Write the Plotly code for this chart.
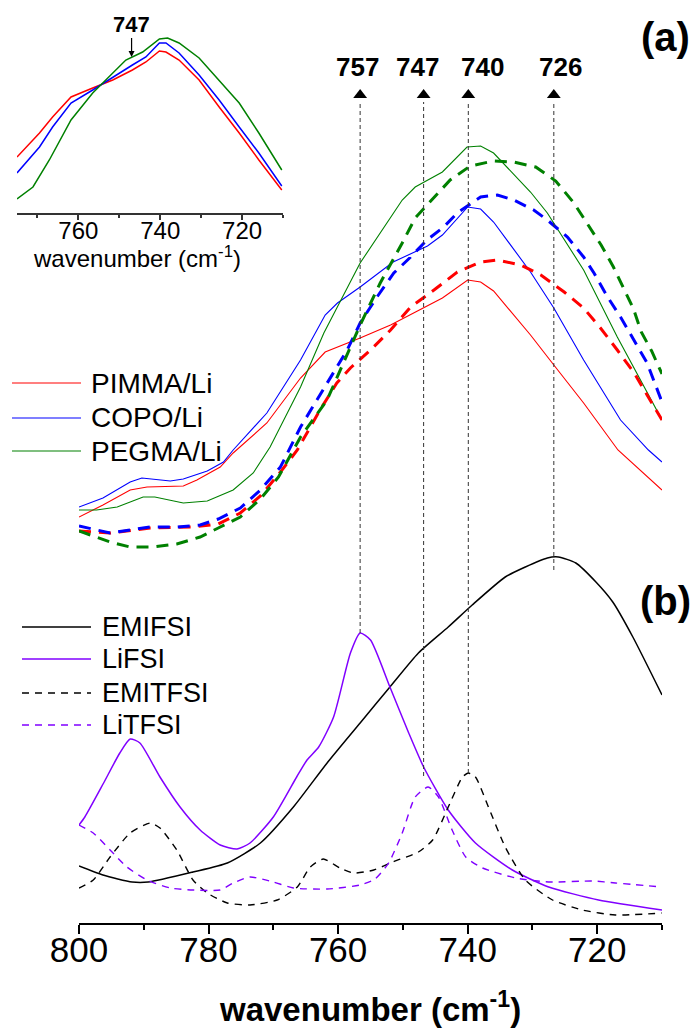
import plotly.graph_objects as go

# ---------------- data (arbitrary intensity units) ----------------
# panel (a): polymer electrolytes, solid = FSI-based, dashed = TFSI-based
pimma_fsi_x = [800, 796.3, 792.1, 789.5, 783.9, 781.8, 778.2, 776.2, 771, 765.8, 762, 756.6, 751.9, 746.8, 743.9, 740, 738, 736, 730.3, 726.7, 722.1, 716.8, 710]
pimma_fsi_y = [4.06, 4.18, 4.33, 4.36, 4.37, 4.43, 4.56, 4.70, 5.00, 5.45, 5.71, 5.85, 5.98, 6.15, 6.25, 6.43, 6.41, 6.32, 5.88, 5.58, 5.20, 4.73, 4.33]

copo_fsi_x = [800, 796.3, 792.1, 790.3, 785.9, 783.9, 780.2, 777.7, 776.2, 771, 765.8, 762, 760.1, 756.6, 751.5, 746.2, 743.9, 740, 738, 736, 730.3, 726.7, 722.1, 716.4, 712.1, 710]
copo_fsi_y = [4.16, 4.25, 4.41, 4.45, 4.42, 4.44, 4.52, 4.61, 4.73, 5.10, 5.63, 6.08, 6.20, 6.36, 6.61, 6.77, 6.88, 7.16, 7.14, 7.01, 6.51, 6.15, 5.63, 5.03, 4.73, 4.61]

pegma_fsi_x = [800, 797.3, 794.1, 790.1, 788.3, 783.9, 780.2, 776.2, 773.1, 770.5, 765.8, 762.2, 756.6, 750.1, 748.1, 743.9, 740.1, 738, 736, 730.3, 727.7, 722.1, 716.9, 710]
pegma_fsi_y = [4.13, 4.13, 4.16, 4.26, 4.26, 4.20, 4.22, 4.33, 4.50, 4.76, 5.36, 5.90, 6.60, 7.23, 7.36, 7.51, 7.76, 7.77, 7.70, 7.31, 7.10, 6.53, 5.86, 5.03]

pimma_tfsi_x = [800, 795.2, 789, 782.4, 778.5, 775.1, 772, 768.9, 766.3, 764.8, 762.8, 760.2, 758.1, 755, 751.9, 748.8, 745.2, 741.6, 738, 735.4, 731.8, 728.7, 725.1, 722.1, 719.5, 716.9, 714.3, 712.3, 710]
pimma_tfsi_y = [3.92, 3.90, 3.95, 3.96, 3.99, 4.10, 4.27, 4.51, 4.73, 4.90, 5.13, 5.40, 5.55, 5.73, 5.93, 6.16, 6.33, 6.51, 6.61, 6.63, 6.58, 6.48, 6.31, 6.15, 5.95, 5.73, 5.50, 5.28, 5.03]

copo_tfsi_x = [800, 795.2, 792.1, 789, 784.9, 781.3, 778.5, 775.1, 772, 768.9, 765.8, 761.2, 758.6, 756.6, 754, 751.4, 748.8, 746.3, 743.7, 741.6, 738, 735.4, 732.9, 729.8, 727.7, 724.6, 722.1, 720.5, 718.4, 716.4, 714.3, 712.3, 710]
copo_tfsi_y = [3.97, 3.90, 3.93, 3.96, 3.96, 3.98, 4.04, 4.15, 4.33, 4.56, 4.96, 5.46, 5.73, 6.00, 6.26, 6.50, 6.66, 6.83, 6.96, 7.10, 7.26, 7.28, 7.23, 7.13, 7.03, 6.86, 6.66, 6.50, 6.26, 6.06, 5.83, 5.60, 5.21]

pegma_tfsi_x = [800, 795.2, 792.1, 788.6, 784.9, 781.3, 778.5, 775.1, 772, 769.2, 765.8, 761.7, 756.6, 753.5, 750.1, 748.1, 745.7, 742.7, 739.6, 736, 732.9, 729.5, 726.4, 723.6, 721.4, 719.4, 717.5, 716, 714.4, 713.2, 711.6, 710]
pegma_tfsi_y = [3.92, 3.81, 3.76, 3.76, 3.79, 3.86, 3.95, 4.06, 4.24, 4.46, 4.86, 5.23, 5.98, 6.40, 6.80, 7.05, 7.22, 7.43, 7.57, 7.62, 7.61, 7.56, 7.42, 7.20, 6.98, 6.78, 6.56, 6.35, 6.14, 5.91, 5.72, 5.49]

# panel (b): reference salts / ionic liquids
emifsi_x = [800, 796.3, 791.8, 789.3, 782.4, 777.1, 772, 766.9, 761.7, 756.6, 752, 747.6, 743, 739.3, 734.2, 731.1, 727.7, 726, 723.3, 720.2, 717.6, 714.5, 710]
emifsi_y = [0.57, 0.48, 0.41, 0.41, 0.51, 0.60, 0.80, 1.16, 1.60, 2.00, 2.36, 2.70, 2.96, 3.18, 3.46, 3.56, 3.65, 3.66, 3.60, 3.41, 3.21, 2.86, 2.28]

lifsi_x = [800, 799.1, 796.2, 793.7, 792.1, 790.6, 787.5, 784.4, 781.3, 778.2, 775.6, 773.6, 770, 766.4, 764.8, 763, 760.7, 758.1, 756.6, 755, 752, 749.1, 746.8, 743, 738.8, 733.1, 727.5, 719.8, 710]
lifsi_y = [0.98, 1.06, 1.40, 1.70, 1.84, 1.80, 1.46, 1.16, 0.93, 0.78, 0.74, 0.80, 1.06, 1.46, 1.63, 1.76, 2.06, 2.70, 2.90, 2.83, 2.36, 1.90, 1.56, 1.13, 0.80, 0.53, 0.36, 0.23, 0.13]

emitfsi_x = [800, 797.8, 795.2, 792.1, 789, 787.5, 784.9, 782.4, 780.2, 777.1, 773.6, 769.4, 766.3, 764.3, 762.3, 759.7, 757.6, 754.5, 751.6, 747.6, 745.4, 743, 740.8, 739.9, 738.8, 736.8, 734.2, 731.1, 726.9, 722.3, 717.2, 710]
emitfsi_y = [0.35, 0.43, 0.66, 0.90, 1.00, 0.95, 0.73, 0.43, 0.30, 0.20, 0.18, 0.23, 0.36, 0.56, 0.64, 0.55, 0.50, 0.53, 0.61, 0.71, 0.83, 1.16, 1.46, 1.50, 1.46, 1.16, 0.76, 0.43, 0.23, 0.13, 0.08, 0.10]

litfsi_x = [800, 797.8, 795.2, 792.6, 789.5, 785.9, 782.4, 778.2, 776.2, 773.6, 770, 766.9, 761.7, 756.6, 754.3, 752.2, 750.1, 748.1, 746.1, 744.5, 742.4, 740.3, 737.7, 732.6, 727.5, 720.7, 717.2, 710]
litfsi_y = [0.98, 0.90, 0.73, 0.56, 0.43, 0.35, 0.33, 0.33, 0.40, 0.46, 0.41, 0.35, 0.34, 0.38, 0.44, 0.60, 0.90, 1.26, 1.36, 1.26, 0.93, 0.66, 0.55, 0.45, 0.41, 0.42, 0.40, 0.36]

# inset: normalised FSI spectra
inset_x = [775.0, 769.5, 766.3, 761.8, 756.5, 751.6, 746.8, 743.5, 740.2, 738.6, 735.4, 730.5, 725.6, 720.7, 715.9, 710.3]
inset_pimma_y = [0.56, 0.80, 0.96, 1.16, 1.25, 1.33, 1.43, 1.51, 1.62, 1.61, 1.53, 1.33, 1.06, 0.80, 0.53, 0.23]
inset_copo_y = [0.40, 0.66, 0.86, 1.10, 1.23, 1.36, 1.48, 1.56, 1.70, 1.70, 1.60, 1.38, 1.13, 0.86, 0.60, 0.27]
inset_pegma_x = [775.0, 771.1, 767.1, 761.8, 756.5, 751.6, 748.4, 744.3, 740.2, 738.2, 735.4, 730.5, 725.6, 720.7, 715.9, 710.3]
inset_pegma_y = [0.14, 0.26, 0.53, 0.93, 1.20, 1.40, 1.53, 1.61, 1.74, 1.75, 1.70, 1.55, 1.33, 1.10, 0.80, 0.43]

# marked bands
peak_labels = ["757", "747", "740", "726"]
peak_positions = [756.6, 746.8, 739.9, 726.7]
peak_line_bottom = [2.90, 1.47, 1.50, 3.53]
tick_vals = [800, 780, 760, 740, 720]
inset_ticks = [760, 740, 720]

# ---------------- styling ----------------
RED, BLUE, GREEN = "#ff0000", "#0000ff", "#008000"
PURPLE, BLACK = "#8000ff", "#000000"
FONT = "Liberation Sans, Arial, sans-serif"

W, H = 695, 1028
ML, MR, MT, MB = 10, 33, 0, 105
PW, PH = W - ML - MR, H - MT - MB
label_xshift = [-3, -6, 14, 7]   # label offsets (px) relative to guide lines


def px_x(p):
    return (p - ML) / PW


def px_y(p):
    return (H - MB - p) / PH


fig = go.Figure()

thick_dash = "12px,8px"
thin_dash = "7px,6px"

# panel (a) solid
for x, y, c in [(pimma_fsi_x, pimma_fsi_y, RED), (copo_fsi_x, copo_fsi_y, BLUE), (pegma_fsi_x, pegma_fsi_y, GREEN)]:
    fig.add_trace(go.Scatter(x=x, y=y, mode="lines", line=dict(color=c, width=1.1), showlegend=False, hoverinfo="skip"))
# panel (a) dashed
for x, y, c in [(pimma_tfsi_x, pimma_tfsi_y, RED), (copo_tfsi_x, copo_tfsi_y, BLUE), (pegma_tfsi_x, pegma_tfsi_y, GREEN)]:
    fig.add_trace(go.Scatter(x=x, y=y, mode="lines", line=dict(color=c, width=3, dash=thick_dash), showlegend=False, hoverinfo="skip"))

# panel (b)
fig.add_trace(go.Scatter(x=emifsi_x, y=emifsi_y, mode="lines", line=dict(color=BLACK, width=1.5, shape="spline", smoothing=0.6), showlegend=False))
fig.add_trace(go.Scatter(x=lifsi_x, y=lifsi_y, mode="lines", line=dict(color=PURPLE, width=1.5, shape="spline", smoothing=0.6), showlegend=False))
fig.add_trace(go.Scatter(x=emitfsi_x, y=emitfsi_y, mode="lines", line=dict(color=BLACK, width=1.4, dash=thin_dash, shape="spline", smoothing=0.6), showlegend=False))
fig.add_trace(go.Scatter(x=litfsi_x, y=litfsi_y, mode="lines", line=dict(color=PURPLE, width=1.4, dash=thin_dash, shape="spline", smoothing=0.6), showlegend=False))

# vertical guides + arrowheads
ARROW_BASE, ARROW_Y, LABEL_Y = 8.21, 8.28, 8.56
for pos, bot in zip(peak_positions, peak_line_bottom):
    fig.add_trace(go.Scatter(x=[pos, pos], y=[bot, ARROW_BASE], mode="lines",
                             line=dict(color="#333333", width=1, dash="4px,3px"), showlegend=False))
fig.add_trace(go.Scatter(x=peak_positions, y=[ARROW_Y] * len(peak_positions), mode="markers",
                         marker=dict(symbol="triangle-up", size=12, color=BLACK), showlegend=False))
for lab, pos, dx in zip(peak_labels, peak_positions, label_xshift):
    fig.add_annotation(x=pos, y=LABEL_Y, xref="x", yref="y", text="<b>%s</b>" % lab, showarrow=False,
                       xshift=dx, font=dict(family=FONT, size=26, color=BLACK), xanchor="center", yanchor="middle")

# inset traces
fig.add_trace(go.Scatter(x=inset_x, y=inset_pimma_y, xaxis="x2", yaxis="y2", mode="lines", line=dict(color=RED, width=1.5), showlegend=False))
fig.add_trace(go.Scatter(x=inset_x, y=inset_copo_y, xaxis="x2", yaxis="y2", mode="lines", line=dict(color=BLUE, width=1.5), showlegend=False))
fig.add_trace(go.Scatter(x=inset_pegma_x, y=inset_pegma_y, xaxis="x2", yaxis="y2", mode="lines", line=dict(color=GREEN, width=1.5), showlegend=False))
fig.add_annotation(x=747, y=1.56, xref="x2", yref="y2", text="<b>747</b>", showarrow=True, arrowhead=2,
                   arrowsize=1, arrowwidth=1.2, arrowcolor=BLACK, ax=0, ay=-33,
                   font=dict(family=FONT, size=22, color=BLACK))

# axis titles (placed as annotations for exact positioning)
fig.add_annotation(x=px_x(370), y=px_y(1007), xref="paper", yref="paper",
                   text="<b>wavenumber (cm<sup>-1</sup>)</b>", showarrow=False,
                   font=dict(family=FONT, size=33, color=BLACK), xanchor="center", yanchor="middle")
fig.add_annotation(x=px_x(137), y=px_y(257), xref="paper", yref="paper",
                   text="wavenumber (cm<sup>-1</sup>)", showarrow=False,
                   font=dict(family=FONT, size=24, color=BLACK), xanchor="center", yanchor="middle")

# panel labels
fig.add_annotation(x=px_x(665), y=px_y(37), xref="paper", yref="paper", text="<b>(a)</b>", showarrow=False,
                   font=dict(family=FONT, size=40, color=BLACK), xanchor="center", yanchor="middle")
fig.add_annotation(x=px_x(665), y=px_y(601), xref="paper", yref="paper", text="<b>(b)</b>", showarrow=False,
                   font=dict(family=FONT, size=40, color=BLACK), xanchor="center", yanchor="middle")

# manual legends
legend_a = [("PIMMA/Li", RED, 383), ("COPO/Li", BLUE, 418), ("PEGMA/Li", GREEN, 451)]
for name, col, yy in legend_a:
    fig.add_shape(type="line", xref="paper", yref="paper", x0=px_x(12), x1=px_x(81), y0=px_y(yy), y1=px_y(yy),
                  line=dict(color=col, width=1.2))
    fig.add_annotation(x=px_x(89), y=px_y(yy), xref="paper", yref="paper", text=name, showarrow=False,
                       xanchor="left", yanchor="middle", font=dict(family=FONT, size=28, color=BLACK))
legend_b = [("EMIFSI", BLACK, "solid", 627), ("LiFSI", PURPLE, "solid", 659),
            ("EMITFSI", BLACK, thin_dash, 693), ("LiTFSI", PURPLE, thin_dash, 725)]
for name, col, dash, yy in legend_b:
    fig.add_shape(type="line", xref="paper", yref="paper", x0=px_x(22), x1=px_x(91), y0=px_y(yy), y1=px_y(yy),
                  line=dict(color=col, width=1.5, dash=dash))
    fig.add_annotation(x=px_x(100), y=px_y(yy), xref="paper", yref="paper", text=name, showarrow=False,
                       xanchor="left", yanchor="middle", font=dict(family=FONT, size=27, color=BLACK))

fig.update_layout(
    width=W, height=H, margin=dict(l=ML, r=MR, t=MT, b=MB, autoexpand=False),
    paper_bgcolor="white", plot_bgcolor="rgba(0,0,0,0)",
    showlegend=False,
    xaxis=dict(domain=[px_x(79), 1], range=[800, 710], anchor="y", automargin=False,
               showline=True, linecolor=BLACK, linewidth=2, mirror=False,
               ticks="outside", ticklen=9, tickwidth=2, tickcolor=BLACK,
               tickvals=tick_vals, showgrid=False, zeroline=False,
               minor=dict(dtick=10, tick0=800, ticks="outside", ticklen=5, tickwidth=2, tickcolor=BLACK, showgrid=False),
               tickfont=dict(family=FONT, size=35, color=BLACK), ticklabelstandoff=-14),
    yaxis=dict(domain=[0, 1], range=[0, 9.23], visible=False, fixedrange=True, automargin=False),
    xaxis2=dict(domain=[px_x(17), px_x(283)], range=[775, 710], anchor="y2", automargin=False,
                showline=True, linecolor="#333333", linewidth=1.5,
                ticks="outside", ticklen=5, tickwidth=1.5, tickcolor="#333333",
                tickvals=inset_ticks, showgrid=False, zeroline=False,
                minor=dict(dtick=10, tick0=710, ticks="outside", ticklen=3, tickwidth=1.5, tickcolor="#333333", showgrid=False),
                tickfont=dict(family=FONT, size=24, color=BLACK), ticklabelstandoff=-10),
    yaxis2=dict(domain=[px_y(213), 1], range=[0, 2.13], visible=False, anchor="x2", automargin=False),
)

fig.write_html("out.html")
